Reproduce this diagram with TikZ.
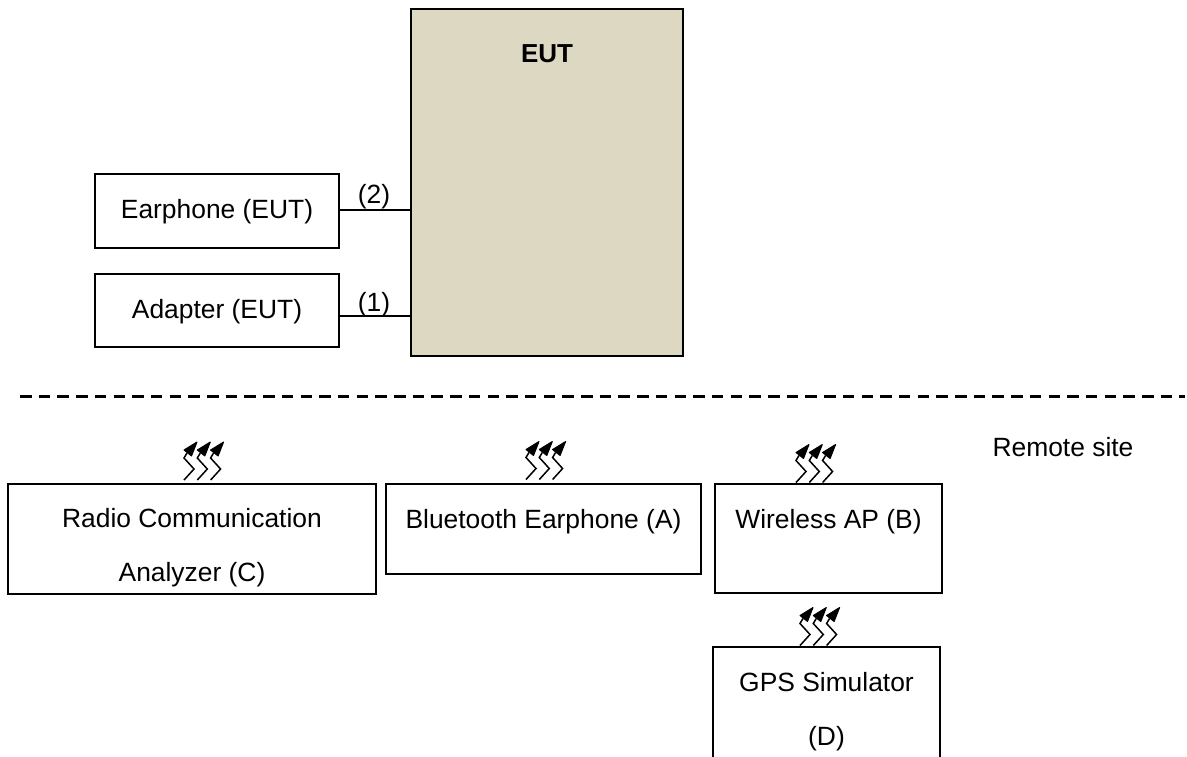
\documentclass[tikz,border=0pt]{standalone}
\usepackage{fontspec}
\setmainfont{Liberation Sans}
\usetikzlibrary{calc}
\definecolor{eutfill}{HTML}{DDD8C2}
\tikzset{
  boxnode/.style={draw=black,line width=2.3pt,anchor=north west,inner sep=0pt,outer sep=0pt},
  labeltext/.style={font=\fontsize{26.4}{54}\selectfont,align=center,inner sep=0pt},
  wirelink/.style={draw=black,line width=2.3pt},
  zigzag/.style={draw=black,line width=1.5pt},
  zighead/.style={fill=black,draw=black,line width=1pt,line join=round},
  sepline/.style={draw=black,line width=3pt,dash pattern=on 11.5pt off 7.2pt}
}
\newcommand{\boxat}[8]{%
  \pgfmathsetmacro{\bw}{#4-#2}\pgfmathsetmacro{\bh}{#5-#3}%
  \node[boxnode,minimum width=\bw pt,minimum height=\bh pt,#8] (#1) at (#2,#3) {};
  \node[labeltext] (#1text) at ($(#1.center)+(0,#7)$) {#6};
}
\newcommand{\waves}[2]{%
  \foreach \k in {0,1,2}{
    \begin{scope}[shift={(#1+\k*13.3,#2)}]
      \draw[zigzag] (0,0) -- (10,-11) -- (0,-22) -- (3,-27);
      \filldraw[zighead] (13,-38) -- (0,-30) -- (7.5,-24) -- cycle;
    \end{scope}
  }
}
\begin{document}
\begin{tikzpicture}[x=1pt,y=-1pt]
\useasboundingbox (0,0) rectangle (1187,756);
\clip (0,0) rectangle (1187,756);
\boxat{eut}{411}{9}{683}{356}{}{0}{fill=eutfill}
\node[labeltext,font=\fontsize{26}{54}\selectfont\bfseries] (euttitle) at (547,54) {EUT};
\boxat{earphone}{95}{174}{339}{248}{Earphone (EUT)}{0.5}{}
\boxat{adapter}{95}{274}{339}{347}{Adapter (EUT)}{1}{}
\coordinate (p2) at (411,210);
\coordinate (p1) at (411,316);
\draw[wirelink] (earphone.east |- p2) -- (p2);
\draw[wirelink] (adapter.east |- p1) -- (p1);
\node[labeltext] (lab2) at (374,197) {(2)};
\node[labeltext] (lab1) at (374,305) {(1)};
\coordinate (dashl) at (20,396);
\coordinate (dashr) at (1185,396);
\draw[sepline] (dashl) -- (dashr);
\node[labeltext] (remote) at (1063,447.5) {Remote site};
\boxat{radio}{8}{484}{376}{594}{Radio Communication\\Analyzer (C)}{9}{}
\boxat{bt}{386}{484}{701}{574}{Bluetooth Earphone (A)}{-7}{}
\boxat{ap}{715}{484}{942}{593}{Wireless AP (B)}{-17}{}
\boxat{gps}{713}{647}{940}{770}{GPS Simulator\\(D)}{3.5}{}
\waves{184}{480}
\waves{526}{479.5}
\waves{796}{482.5}
\waves{800}{645.5}
\end{tikzpicture}
\end{document}
